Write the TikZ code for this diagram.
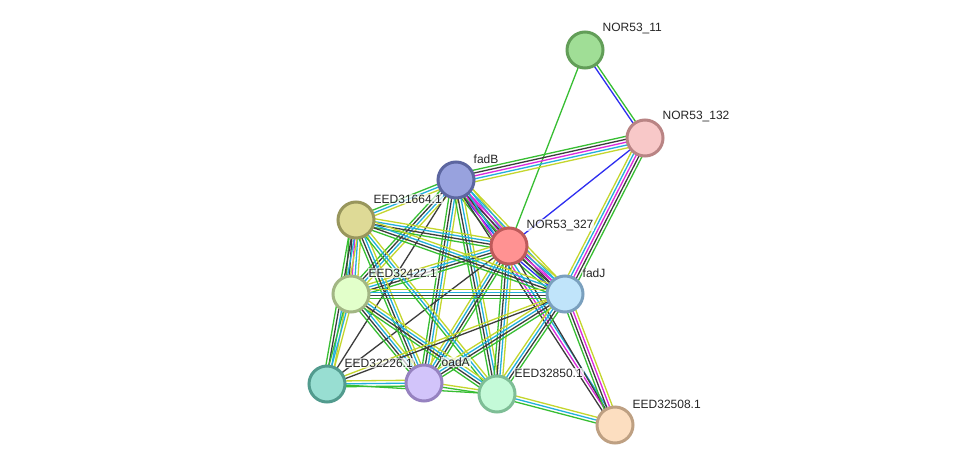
\documentclass[tikz,border=0pt]{standalone}
\usepackage{fontspec}
\setmainfont{Liberation Sans}
\usetikzlibrary{calc,positioning}
\definecolor{strgreen}{RGB}{55,190,50}
\definecolor{stryellow}{RGB}{196,214,45}
\definecolor{strcyan}{RGB}{35,175,220}
\definecolor{strblack}{RGB}{60,60,60}
\definecolor{strmagenta}{RGB}{220,40,220}
\definecolor{strblue}{RGB}{45,45,240}
\pgfdeclarelayer{paper}
\pgfdeclarelayer{edgelayer}
\pgfsetlayers{paper,edgelayer,main}
% one line per evidence channel, side by side
\newcommand{\strlink}[3]{%
  \foreach \col [count=\k] in {#3} {\xdef\nch{\k}}
  \foreach \col [count=\k] in {#3} {
    \pgfmathsetmacro{\off}{(\k-(\nch+1)/2)*2.9}
    \draw[chan,\col] ($(#1.center)!\off pt!90:(#2.center)$) -- ($(#2.center)!\off pt!-90:(#1.center)$);
  }}
\tikzset{
  prot/.style={circle,minimum size=36pt,line width=3pt,inner sep=0pt},
  lbl/.style={font=\fontsize{12}{14}\selectfont,text=black!85,fill=white,fill opacity=.7,text opacity=1,inner sep=1pt,xshift=-3pt,yshift=21pt},
  chan/.style={line width=1.3pt}
}
\begin{document}
\begin{tikzpicture}[x=1pt,y=-1pt,line cap=round]
 \begin{pgfonlayer}{paper}
  \fill[white] (0,0) rectangle (976,471);
 \end{pgfonlayer}
 \useasboundingbox (0,0) rectangle (976,471);
 % proteins
 \node[prot,fill={rgb,255:red,160;green,222;blue,150},draw={rgb,255:red,98;green,158;blue,88},label={[lbl]0:NOR53\_11}] (nor11) at (585,50) {};
 \node[prot,fill={rgb,255:red,248;green,200;blue,200},draw={rgb,255:red,185;green,132;blue,132},label={[lbl]0:NOR53\_132}] (nor132) at (645,138) {};
 \node[prot,fill={rgb,255:red,152;green,162;blue,222},draw={rgb,255:red,92;green,102;blue,160},label={[lbl]0:fadB}] (fadB) at (456,180) {};
 \node[prot,fill={rgb,255:red,222;green,218;blue,150},draw={rgb,255:red,152;green,150;blue,92},label={[lbl]0:EED31664.1}] (eed664) at (356,220) {};
 \node[prot,fill={rgb,255:red,255;green,146;blue,146},draw={rgb,255:red,190;green,90;blue,90},label={[lbl]0:NOR53\_327}] (nor327) at (509,246) {};
 \node[prot,fill={rgb,255:red,226;green,255;blue,202},draw={rgb,255:red,162;green,182;blue,132},label={[lbl]0:EED32422.1}] (eed422) at (351,294) {};
 \node[prot,fill={rgb,255:red,192;green,228;blue,250},draw={rgb,255:red,122;green,160;blue,190},label={[lbl]0:fadJ}] (fadJ) at (565,294) {};
 \node[prot,fill={rgb,255:red,152;green,222;blue,210},draw={rgb,255:red,82;green,155;blue,142},label={[lbl]0:EED32226.1}] (eed226) at (327,384) {};
 \node[prot,fill={rgb,255:red,210;green,196;blue,250},draw={rgb,255:red,150;green,130;blue,192},label={[lbl]0:oadA}] (oadA) at (424,383) {};
 \node[prot,fill={rgb,255:red,196;green,250;blue,216},draw={rgb,255:red,126;green,190;blue,150},label={[lbl]0:EED32850.1}] (eed850) at (497,394) {};
 \node[prot,fill={rgb,255:red,252;green,222;blue,192},draw={rgb,255:red,190;green,160;blue,130},label={[lbl]0:EED32508.1}] (eed508) at (615,425) {};
 % associations
 \begin{pgfonlayer}{edgelayer}
  \strlink{nor11}{nor132}{strblue,strgreen}
  \strlink{nor11}{nor327}{strgreen}
  \strlink{nor132}{fadB}{strgreen,strblack,strmagenta,strcyan,stryellow}
  \strlink{nor132}{nor327}{strblue}
  \strlink{fadJ}{nor132}{strgreen,strblack,strmagenta,strcyan,stryellow}
  \strlink{fadB}{nor327}{strgreen,strblue,strblack,strmagenta,strcyan,stryellow}
  \strlink{fadB}{fadJ}{strgreen,strblack,strmagenta,strcyan,stryellow}
  \strlink{fadB}{eed664}{strgreen,strcyan,stryellow}
  \strlink{fadB}{eed422}{strgreen,strblack,strcyan,stryellow}
  \strlink{fadB}{eed226}{strblack}
  \strlink{fadB}{oadA}{strgreen,strblack,strcyan,stryellow}
  \strlink{fadB}{eed850}{strgreen,strblack,strcyan,stryellow}
  \strlink{fadB}{eed508}{strblack,strmagenta,strcyan}
  \strlink{nor327}{fadJ}{strgreen,strblue,strblack,strmagenta,strcyan,stryellow}
  \strlink{eed664}{nor327}{strgreen,strblack,strcyan,stryellow}
  \strlink{eed422}{nor327}{strgreen,strblack,strcyan,stryellow}
  \strlink{eed226}{nor327}{strblack}
  \strlink{oadA}{nor327}{strgreen,strblack,strcyan,stryellow}
  \strlink{nor327}{eed850}{strgreen,strblack,strcyan,stryellow}
  \strlink{nor327}{eed508}{strblack}
  \strlink{fadJ}{eed508}{strgreen,strblack,strmagenta,stryellow}
  \strlink{eed850}{eed508}{strgreen,strcyan,stryellow}
  \strlink{eed664}{eed422}{strgreen,strblack,strmagenta,strcyan,stryellow}
  \strlink{eed664}{eed226}{strgreen,strblack,strcyan,stryellow}
  \strlink{eed664}{fadJ}{strgreen,strblack,strcyan,stryellow}
  \strlink{eed664}{oadA}{strgreen,strblack,strcyan,stryellow}
  \strlink{eed664}{eed850}{strgreen,strcyan,stryellow}
  \strlink{eed422}{fadJ}{strgreen,strblack,strcyan,stryellow}
  \strlink{eed422}{eed226}{strgreen,strcyan,stryellow}
  \strlink{eed422}{oadA}{strgreen,strblack,strcyan,stryellow}
  \strlink{eed422}{eed850}{strgreen,strblack,strcyan,stryellow}
  \strlink{eed226}{fadJ}{strblack,stryellow}
  \strlink{oadA}{fadJ}{strgreen,strblack,strcyan,stryellow}
  \strlink{eed850}{fadJ}{strgreen,strblack,strcyan,stryellow}
  \strlink{eed226}{oadA}{strgreen,strcyan,stryellow}
  \strlink{eed226}{eed850}{strgreen}
  \strlink{oadA}{eed850}{strgreen,stryellow}
 \end{pgfonlayer}
\end{tikzpicture}
\end{document}
